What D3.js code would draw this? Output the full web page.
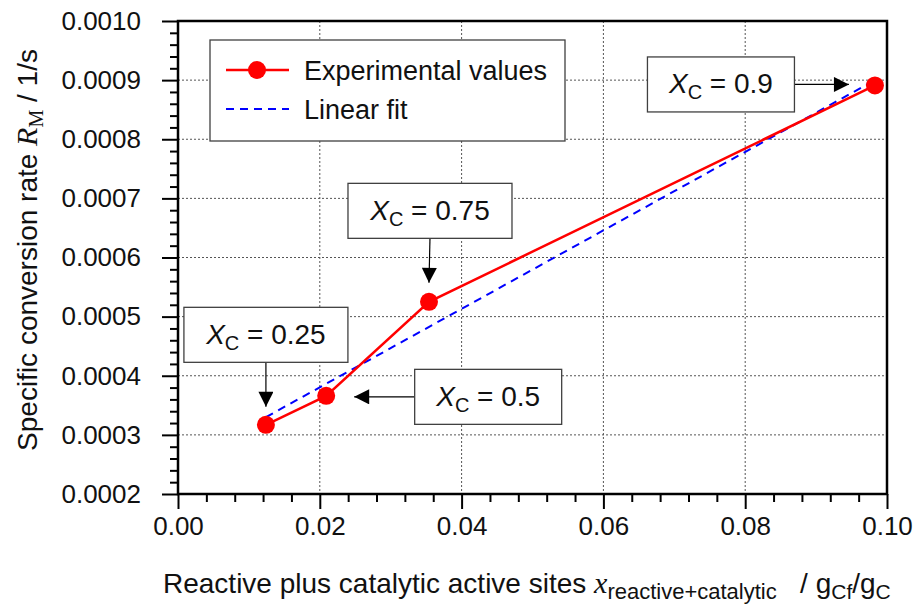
<!DOCTYPE html>
<html>
<head>
<meta charset="utf-8">
<script src="https://cdn.jsdelivr.net/npm/d3@7"></script>
<style>
  body { margin: 0; background: #fff; }
  svg { font-family: "Liberation Sans", Arial, sans-serif; }
</style>
</head>
<body>
<div id="chart"></div>
<script>
'use strict';
// measured points
var xVals = [0.0124, 0.0209, 0.0354, 0.0983];
var yVals = [0.000317, 0.000366, 0.000525, 0.000891];
// linear fit end points
var fitX = [0.0124, 0.0983];
var fitY = [0.00033, 0.0009];
var convLabels = ['0.25', '0.5', '0.75', '0.9'];
var xTicks = [0, 0.02, 0.04, 0.06, 0.08, 0.10];
var yTicks = [0.0002, 0.0003, 0.0004, 0.0005, 0.0006, 0.0007, 0.0008, 0.0009, 0.0010];

var width = 915, height = 608;
var margin = {top: 21, right: 28, bottom: 114, left: 178};
var w = width - margin.left - margin.right,
    h = height - margin.top - margin.bottom;

var svg = d3.select('#chart').append('svg')
    .attr('width', width)
    .attr('height', height);

var x = d3.scaleLinear().domain([0, 0.10]).range([0, w]);
var y = d3.scaleLinear().domain([0.0002, 0.0010]).range([h, 0]);

var g = svg.append('g').attr('transform', 'translate(' + margin.left + ',' + margin.top + ')');

// grid
g.append('g').selectAll('line').data(xTicks.slice(1, -1)).join('line')
    .attr('x1', x).attr('x2', x).attr('y1', 0).attr('y2', h)
    .attr('stroke', '#555').attr('stroke-width', 1).attr('stroke-dasharray', '2,2');
g.append('g').selectAll('line').data(yTicks.slice(1, -1)).join('line')
    .attr('y1', y).attr('y2', y).attr('x1', 0).attr('x2', w)
    .attr('stroke', '#555').attr('stroke-width', 1).attr('stroke-dasharray', '2,2');

// minor ticks (4 between majors)
var xMinor = d3.range(1, 25).filter(function (i) { return i % 5 !== 0; }).map(function (i) { return i * 0.004; });
var yMinor = d3.range(1, 40).filter(function (i) { return i % 5 !== 0; }).map(function (i) { return 0.0002 + i * 0.00002; });

var xAxis = g.append('g').attr('transform', 'translate(0,' + h + ')')
    .call(d3.axisBottom(x).tickValues(xTicks).tickFormat(d3.format('.2f')).tickSize(15).tickSizeOuter(0));
var yAxis = g.append('g')
    .call(d3.axisLeft(y).tickValues(yTicks).tickFormat(d3.format('.4f')).tickSize(16).tickSizeOuter(0));
g.append('g').attr('transform', 'translate(0,' + h + ')')
    .call(d3.axisBottom(x).tickValues(xMinor).tickFormat('').tickSize(8).tickSizeOuter(0))
    .call(function (s) { s.select('.domain').remove(); });
g.append('g')
    .call(d3.axisLeft(y).tickValues(yMinor).tickFormat('').tickSize(8).tickSizeOuter(0))
    .call(function (s) { s.select('.domain').remove(); });

g.selectAll('.tick line').attr('stroke', '#000').attr('stroke-width', 2);
xAxis.selectAll('.tick text').attr('font-size', 26).attr('fill', '#111').attr('dy', '0.75em').attr('y', 21);
yAxis.selectAll('.tick text').attr('font-size', 26).attr('fill', '#111').attr('x', -37);
xAxis.select('.domain').remove();
yAxis.select('.domain').remove();

// frame
g.append('rect').attr('width', w).attr('height', h)
    .attr('fill', 'none').attr('stroke', '#000').attr('stroke-width', 2.5);

// linear fit
var fitData = fitX.map(function (v, i) { return [v, fitY[i]]; });
g.append('path').datum(fitData)
    .attr('d', d3.line().x(function (d) { return x(d[0]); }).y(function (d) { return y(d[1]); }))
    .attr('fill', 'none').attr('stroke', '#0000ff').attr('stroke-width', 2).attr('stroke-dasharray', '8,6');

// experimental values
var pts = xVals.map(function (v, i) { return {x: v, y: yVals[i], label: convLabels[i]}; });
g.append('path').datum(pts)
    .attr('d', d3.line().x(function (d) { return x(d.x); }).y(function (d) { return y(d.y); }))
    .attr('fill', 'none').attr('stroke', '#ff0000').attr('stroke-width', 2.5);
g.selectAll('circle.pt').data(pts).join('circle')
    .attr('class', 'pt')
    .attr('cx', function (d) { return x(d.x); })
    .attr('cy', function (d) { return y(d.y); })
    .attr('r', 9).attr('fill', '#ff0000');

// arrows
var defs = svg.append('defs');
defs.append('marker').attr('id', 'arrow')
    .attr('viewBox', '0 0 10 10').attr('refX', 10).attr('refY', 5)
    .attr('markerWidth', 16).attr('markerHeight', 15).attr('markerUnits', 'userSpaceOnUse')
    .attr('orient', 'auto')
    .append('path').attr('d', 'M0,0L10,5L0,10Z').attr('fill', '#000');

// annotation layout: box centre offset from the point, arrow direction
var annoLayout = {
    '0.25': {dx: 0, dy: -90, bw: 164, dir: 'down', gap: 18},
    '0.5': {dx: 162, dy: 1, bw: 147, dir: 'left', gap: 28},
    '0.75': {dx: 1, dy: -91, bw: 164, dir: 'down', gap: 19},
    '0.9': {dx: -154, dy: -1, bw: 147, dir: 'left', gap: 26}
};
var bh = 55;
pts.forEach(function (d) {
    var L = annoLayout[d.label];
    var px = x(d.x), py = y(d.y);
    var cx = px + L.dx, cy = py + L.dy;
    var a = g.append('g');
    if (L.dir === 'down') {
        a.append('line').attr('x1', cx).attr('y1', cy + bh / 2).attr('x2', px).attr('y2', py - L.gap)
            .attr('stroke', '#000').attr('stroke-width', 1.2).attr('marker-end', 'url(#arrow)');
    } else {
        var sx = L.dx > 0 ? cx - L.bw / 2 : cx + L.bw / 2;
        var tx = L.dx > 0 ? px + L.gap : px - L.gap;
        a.append('line').attr('x1', sx).attr('y1', cy).attr('x2', tx).attr('y2', cy)
            .attr('stroke', '#000').attr('stroke-width', 1.2).attr('marker-end', 'url(#arrow)');
    }
    a.append('rect').attr('x', cx - L.bw / 2).attr('y', cy - bh / 2)
        .attr('width', L.bw).attr('height', bh)
        .attr('fill', '#fff').attr('stroke', '#404040').attr('stroke-width', 1.3);
    var t = a.append('text').attr('x', cx).attr('y', cy + 9)
        .attr('text-anchor', 'middle').attr('font-size', 28).attr('fill', '#111');
    t.append('tspan').attr('font-style', 'italic').text('X');
    t.append('tspan').attr('font-size', 20).attr('dy', 6).text('C');
    t.append('tspan').attr('dy', -6).text(' = ' + d.label);
});

// legend
var lg = g.append('g').attr('transform', 'translate(32,19)');
lg.append('rect').attr('width', 355).attr('height', 101)
    .attr('fill', '#fff').attr('stroke', '#404040').attr('stroke-width', 1.3);
lg.append('line').attr('x1', 16).attr('x2', 79).attr('y1', 30).attr('y2', 30)
    .attr('stroke', '#ff0000').attr('stroke-width', 2.5);
lg.append('circle').attr('cx', 47).attr('cy', 30).attr('r', 9).attr('fill', '#ff0000');
lg.append('text').attr('x', 94).attr('y', 40).attr('font-size', 27).attr('fill', '#111').text('Experimental values');
lg.append('line').attr('x1', 16).attr('x2', 79).attr('y1', 69).attr('y2', 69)
    .attr('stroke', '#0000ff').attr('stroke-width', 2).attr('stroke-dasharray', '8,6');
lg.append('text').attr('x', 94).attr('y', 79).attr('font-size', 27).attr('fill', '#111').text('Linear fit');

// x axis title
var xt = svg.append('text').attr('x', 163).attr('y', 593).attr('font-size', 28).attr('fill', '#111');
xt.append('tspan').text('Reactive plus catalytic active sites ');
xt.append('tspan').attr('font-family', '"Liberation Serif", serif').attr('font-style', 'italic').attr('font-size', 30).text('x');
xt.append('tspan').attr('font-size', 22).attr('dy', 6).text('reactive+catalytic');
xt.append('tspan').attr('dy', -6).text('\u00a0\u00a0\u00a0/ g');
xt.append('tspan').attr('font-size', 21).attr('dy', 6).text('Cf');
xt.append('tspan').attr('dy', -6).text('/g');
xt.append('tspan').attr('font-size', 21).attr('dy', 6).text('C');

// y axis title
var yt = svg.append('text')
    .attr('transform', 'translate(37,' + 250 + ') rotate(-90)')
    .attr('text-anchor', 'middle').attr('font-size', 28).attr('fill', '#111');
yt.append('tspan').text('Specific conversion rate ');
yt.append('tspan').attr('font-family', '"Liberation Serif", serif').attr('font-style', 'italic').attr('font-size', 30).text('R');
yt.append('tspan').attr('font-family', '"Liberation Serif", serif').attr('font-size', 20).attr('dy', 6).text('M');
yt.append('tspan').attr('dy', -6).text(' / 1/s');
</script>
</body>
</html>
